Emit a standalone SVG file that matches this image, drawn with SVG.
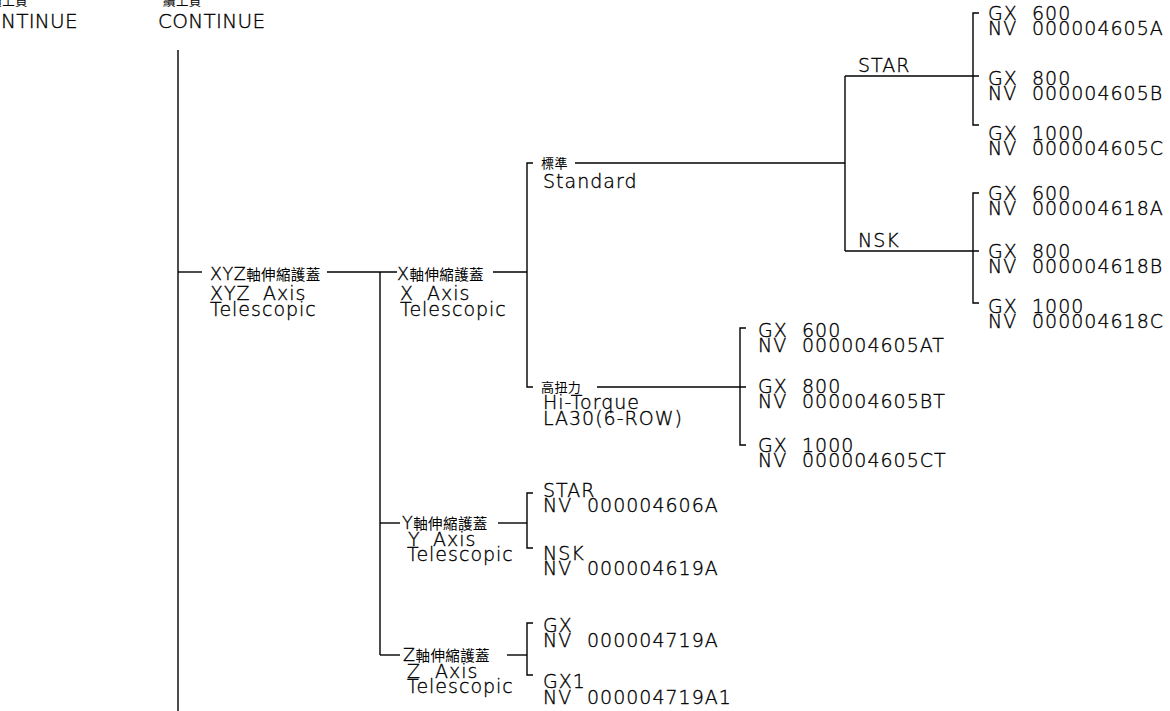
<svg xmlns="http://www.w3.org/2000/svg" width="1170" height="711" viewBox="0 0 1170 711">
<style>
.t{font-family:"DejaVu Sans","Liberation Sans",sans-serif;font-size:19px;letter-spacing:1px;fill:#000;stroke:#000;stroke-width:0.35px;font-weight:200}
.r1{font-size:17.5px;letter-spacing:0.5px}
.c{font-family:"Noto Sans CJK TC","Noto Sans CJK SC",sans-serif;font-size:14.5px;letter-spacing:0.4px;font-weight:400;stroke:none}
.ln{stroke:#000;stroke-width:1.4;fill:none}
</style>
<rect width="1170" height="711" fill="#fff"/>
<g id="connectors" class="ln">
<path d="M178,50V711"/>
<path d="M178,272H202"/>
<path d="M327,272H397"/>
<path d="M380,272V655"/>
<path d="M493,272H527"/>
<path d="M533,163H527V387H533"/>
<path d="M575,163H845"/>
<path d="M845,76V251"/>
<path d="M845,76H979"/>
<path d="M979,13H973V125H979"/>
<path d="M845,251H979"/>
<path d="M979,193H973V303H979"/>
<path d="M597,387H746"/>
<path d="M746,328H740V445H746"/>
<path d="M380,523H400"/>
<path d="M498,523H527"/>
<path d="M533,493H527V548H533"/>
<path d="M380,655H400"/>
<path d="M507,655H527"/>
<path d="M533,623H527V675H533"/>
</g>
<g id="continue-left">
<text class="c" x="28" y="6" text-anchor="end" style="font-size:12.5px">續上頁</text>
<text class="t" x="78" y="28" text-anchor="end" style="font-size:20px;letter-spacing:0.3px">CONTINUE</text>
</g>
<g id="continue-main">
<text class="c" x="163" y="6" style="font-size:12.5px">續上頁</text>
<text class="t" x="158" y="28" style="font-size:20px;letter-spacing:0.3px">CONTINUE</text>
</g>
<g id="n-xyz">
<text class="t" x="210" y="280"><tspan class="r1">XYZ</tspan><tspan class="c">軸伸縮護蓋</tspan></text>
<text class="t" y="300"><tspan x="210">XYZ</tspan> <tspan x="263">Axis</tspan></text>
<text class="t" x="210" y="316">Telescopic</text>
</g>
<g id="n-x">
<text class="t" x="397" y="280"><tspan class="r1">X</tspan><tspan class="c">軸伸縮護蓋</tspan></text>
<text class="t" y="300"><tspan x="400">X</tspan> <tspan x="427">Axis</tspan></text>
<text class="t" x="400" y="316">Telescopic</text>
</g>
<g id="n-standard">
<text class="c" x="541" y="168" style="font-size:13px">標準</text>
<text class="t" x="543" y="188">Standard</text>
</g>
<g id="n-star">
<text class="t" x="858" y="72">STAR</text>
</g>
<g id="n-nsk">
<text class="t" x="858" y="247">NSK</text>
</g>
<g id="leaf-4605a">
<text class="t" y="20"><tspan x="988">GX</tspan> <tspan x="1032">600</tspan></text>
<text class="t" y="35"><tspan x="988">NV</tspan> <tspan x="1032">000004605A</tspan></text>
</g>
<g id="leaf-4605b">
<text class="t" y="85"><tspan x="988">GX</tspan> <tspan x="1032">800</tspan></text>
<text class="t" y="100"><tspan x="988">NV</tspan> <tspan x="1032">000004605B</tspan></text>
</g>
<g id="leaf-4605c">
<text class="t" y="140"><tspan x="988">GX</tspan> <tspan x="1032">1000</tspan></text>
<text class="t" y="155"><tspan x="988">NV</tspan> <tspan x="1032">000004605C</tspan></text>
</g>
<g id="leaf-4618a">
<text class="t" y="200"><tspan x="988">GX</tspan> <tspan x="1032">600</tspan></text>
<text class="t" y="215"><tspan x="988">NV</tspan> <tspan x="1032">000004618A</tspan></text>
</g>
<g id="leaf-4618b">
<text class="t" y="258"><tspan x="988">GX</tspan> <tspan x="1032">800</tspan></text>
<text class="t" y="273"><tspan x="988">NV</tspan> <tspan x="1032">000004618B</tspan></text>
</g>
<g id="leaf-4618c">
<text class="t" y="313"><tspan x="988">GX</tspan> <tspan x="1032">1000</tspan></text>
<text class="t" y="328"><tspan x="988">NV</tspan> <tspan x="1032">000004618C</tspan></text>
</g>
<g id="n-hitorque">
<text class="c" x="541" y="392" style="font-size:13px">高扭力</text>
<text class="t" x="543" y="409">Hi-Torque</text>
<text class="t" x="543" y="425">LA30(6-ROW)</text>
</g>
<g id="leaf-4605at">
<text class="t" y="337"><tspan x="758">GX</tspan> <tspan x="802">600</tspan></text>
<text class="t" y="352"><tspan x="758">NV</tspan> <tspan x="802">000004605AT</tspan></text>
</g>
<g id="leaf-4605bt">
<text class="t" y="393"><tspan x="758">GX</tspan> <tspan x="802">800</tspan></text>
<text class="t" y="408"><tspan x="758">NV</tspan> <tspan x="802">000004605BT</tspan></text>
</g>
<g id="leaf-4605ct">
<text class="t" y="452"><tspan x="758">GX</tspan> <tspan x="802">1000</tspan></text>
<text class="t" y="467"><tspan x="758">NV</tspan> <tspan x="802">000004605CT</tspan></text>
</g>
<g id="n-y">
<text class="t" x="402" y="529"><tspan class="r1">Y</tspan><tspan class="c">軸伸縮護蓋</tspan></text>
<text class="t" y="546"><tspan x="408">Y</tspan> <tspan x="433">Axis</tspan></text>
<text class="t" x="407" y="561">Telescopic</text>
</g>
<g id="leaf-4606a">
<text class="t" x="543" y="497">STAR</text>
<text class="t" y="512"><tspan x="543">NV</tspan> <tspan x="587">000004606A</tspan></text>
</g>
<g id="leaf-4619a">
<text class="t" x="543" y="560">NSK</text>
<text class="t" y="575"><tspan x="543">NV</tspan> <tspan x="587">000004619A</tspan></text>
</g>
<g id="n-z">
<text class="t" x="403" y="661"><tspan class="r1">Z</tspan><tspan class="c">軸伸縮護蓋</tspan></text>
<text class="t" y="678"><tspan x="407">Z</tspan> <tspan x="435">Axis</tspan></text>
<text class="t" x="407" y="693">Telescopic</text>
</g>
<g id="leaf-4719a">
<text class="t" x="543" y="632">GX</text>
<text class="t" y="647"><tspan x="543">NV</tspan> <tspan x="587">000004719A</tspan></text>
</g>
<g id="leaf-4719a1">
<text class="t" x="543" y="688">GX1</text>
<text class="t" y="704"><tspan x="543">NV</tspan> <tspan x="587">000004719A1</tspan></text>
</g>
</svg>
